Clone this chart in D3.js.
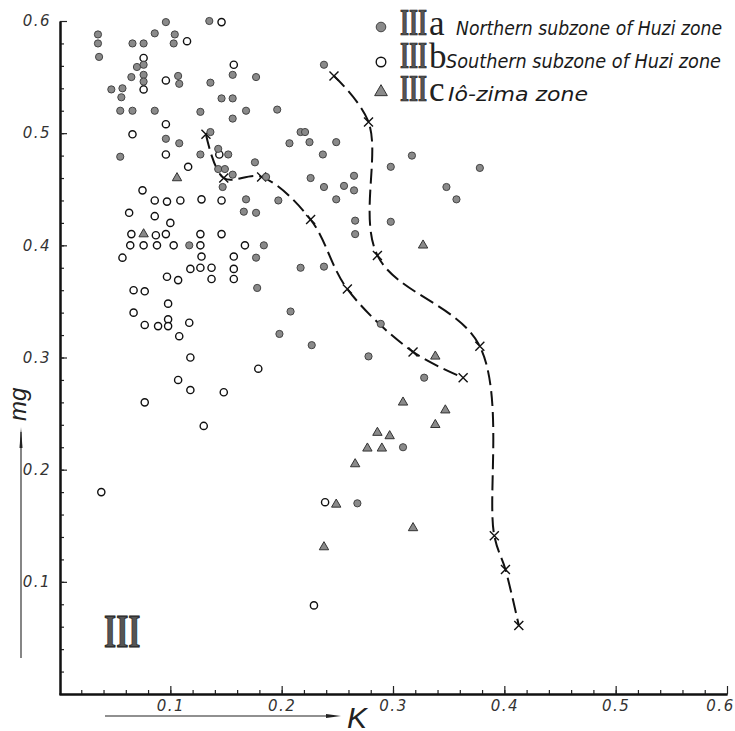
<!DOCTYPE html>
<html>
<head>
<meta charset="utf-8">
<script src="https://cdn.jsdelivr.net/npm/d3@7"></script>
<style>
body{margin:0;background:#fff;}
</style>
</head>
<body>
<div id="container"></div>
<script>
let w = 735;
let h = 731;

// tick values (K and mg share the same 0 - 0.6 range)
let majorTicks = [0.1, 0.2, 0.3, 0.4, 0.5, 0.6];
let minorTicks = d3.range(0.02, 0.6, 0.02);

// IIIa Northern subzone of Huzi zone  [K, mg]
let northernPts = [
  [0.035,0.588],[0.035,0.580],[0.036,0.568],[0.066,0.580],[0.076,0.580],[0.096,0.599],
  [0.086,0.589],[0.104,0.588],[0.103,0.580],[0.135,0.600],[0.070,0.559],[0.076,0.561],
  [0.076,0.552],[0.076,0.546],[0.065,0.550],[0.047,0.539],[0.057,0.540],[0.056,0.532],
  [0.055,0.520],[0.066,0.520],[0.086,0.520],[0.107,0.551],[0.108,0.544],[0.136,0.545],
  [0.156,0.552],[0.146,0.531],[0.156,0.531],[0.127,0.519],[0.156,0.513],[0.168,0.520],
  [0.096,0.495],[0.108,0.491],[0.136,0.501],[0.143,0.486],[0.152,0.481],[0.127,0.481],
  [0.055,0.479],[0.143,0.468],[0.149,0.468],[0.156,0.463],[0.147,0.452],[0.168,0.441],
  [0.166,0.430],[0.117,0.400],[0.196,0.521],[0.176,0.474],[0.186,0.461],[0.226,0.460],
  [0.217,0.501],[0.221,0.501],[0.207,0.491],[0.225,0.492],[0.197,0.440],[0.177,0.429],
  [0.184,0.400],[0.177,0.389],[0.238,0.561],[0.177,0.550],[0.249,0.492],[0.237,0.481],
  [0.317,0.480],[0.298,0.470],[0.378,0.469],[0.238,0.452],[0.256,0.453],[0.265,0.462],
  [0.265,0.449],[0.249,0.441],[0.348,0.452],[0.357,0.441],[0.266,0.422],[0.266,0.410],
  [0.298,0.421],[0.217,0.380],[0.238,0.381],[0.178,0.362],[0.208,0.341],[0.198,0.321],
  [0.227,0.311],[0.289,0.330],[0.278,0.301],[0.328,0.282],[0.309,0.220],[0.268,0.170]
];

// IIIb Southern subzone of Huzi zone
let southernPts = [
  [0.146,0.599],[0.115,0.582],[0.076,0.567],[0.076,0.539],[0.096,0.547],[0.157,0.561],
  [0.096,0.508],[0.066,0.499],[0.144,0.481],[0.096,0.481],[0.116,0.470],[0.075,0.449],
  [0.086,0.440],[0.097,0.439],[0.109,0.440],[0.128,0.441],[0.146,0.440],[0.063,0.429],
  [0.086,0.426],[0.100,0.420],[0.065,0.410],[0.087,0.409],[0.096,0.410],[0.127,0.410],
  [0.146,0.410],[0.064,0.400],[0.076,0.400],[0.088,0.400],[0.103,0.400],[0.127,0.400],
  [0.167,0.400],[0.057,0.389],[0.128,0.390],[0.157,0.390],[0.118,0.379],[0.127,0.380],
  [0.137,0.380],[0.157,0.379],[0.097,0.372],[0.107,0.369],[0.137,0.370],[0.157,0.370],
  [0.067,0.360],[0.077,0.359],[0.098,0.348],[0.067,0.340],[0.077,0.329],[0.089,0.328],
  [0.098,0.334],[0.098,0.328],[0.117,0.331],[0.108,0.319],[0.118,0.300],[0.107,0.280],
  [0.118,0.271],[0.148,0.269],[0.077,0.260],[0.130,0.239],[0.038,0.180],[0.179,0.290],
  [0.239,0.171],[0.229,0.079]
];

// IIIc Io-zima zone
let ioZimaPts = [
  [0.106,0.460],[0.076,0.410],[0.327,0.400],[0.338,0.301],[0.309,0.260],[0.347,0.253],
  [0.338,0.240],[0.286,0.233],[0.297,0.230],[0.277,0.219],[0.290,0.219],[0.266,0.205],
  [0.249,0.169],[0.318,0.148],[0.238,0.131]
];

// the two dashed boundary lines, X marks at each vertex
let innerCurve = [
  [0.132,0.499],[0.148,0.460],[0.182,0.461],[0.226,0.423],[0.259,0.361],[0.318,0.305],[0.363,0.282]
];
let outerCurve = [
  [0.247,0.551],[0.278,0.510],[0.286,0.391],[0.378,0.310],[0.391,0.141],[0.401,0.111],[0.413,0.061]
];

let legendMarks = ["filled", "open", "triangle"];
let legendLetters = ["a", "b", "c"];
let legendLabels = ["Northern subzone of Huzi zone", "Southern subzone of Huzi zone", "Iô-zima zone"];

let viz = d3.select("#container")
  .append("svg")
    .attr("width", w)
    .attr("height", h)
    .style("background-color", "white")
;

let xScale = d3.scaleLinear().domain([0, 0.6]).range([59, 727]);
let yScale = d3.scaleLinear().domain([0, 0.6]).range([694, 21]);

let tickFont = "DejaVu Sans";

// x axis: minor then major ticks, pointing up into the plot
let xMinor = viz.append("g")
  .attr("transform", "translate(0,694)")
  .call(d3.axisBottom(xScale).tickValues(minorTicks).tickSize(-4).tickSizeOuter(0).tickFormat(""));
let xMajor = viz.append("g")
  .attr("transform", "translate(0,694)")
  .call(d3.axisBottom(xScale).tickValues(majorTicks).tickSize(-8).tickSizeOuter(0).tickPadding(6).tickFormat(d3.format(".1f")));

let yMinor = viz.append("g")
  .attr("transform", "translate(60,0)")
  .call(d3.axisLeft(yScale).tickValues(minorTicks).tickSize(-4).tickSizeOuter(0).tickFormat(""));
let yMajor = viz.append("g")
  .attr("transform", "translate(60,0)")
  .call(d3.axisLeft(yScale).tickValues(majorTicks).tickSize(-7).tickSizeOuter(0).tickPadding(9).tickFormat(d3.format(".1f")));

[xMinor, xMajor, yMinor, yMajor].forEach(function(ax){
  ax.attr("font-size", 15)
    .attr("font-family", tickFont)
    .attr("font-style", "italic");
  ax.select(".domain")
    .attr("stroke", "#111")
    .attr("stroke-width", 2);
  ax.selectAll(".tick line")
    .attr("stroke", "#222")
    .attr("stroke-width", 1.2);
  ax.selectAll(".tick text")
    .attr("fill", "#333")
    .attr("letter-spacing", 1.5);
});
// keep the last K label inside the picture
xMajor.selectAll(".tick text").filter(d => d == 0.6).attr("x", -7);

// dashed boundary curves
let line = d3.line()
  .x(d => xScale(d[0]))
  .y(d => yScale(d[1]))
  .curve(d3.curveCatmullRom.alpha(0.5))
;
[innerCurve, outerCurve].forEach(function(curve){
  viz.append("path")
    .attr("d", line(curve))
    .attr("fill", "none")
    .attr("stroke", "#111")
    .attr("stroke-width", 2)
    .attr("stroke-dasharray", "15,6")
  ;
  viz.selectAll(null).data(curve).enter()
    .append("path")
      .attr("d", "M-4.5,-4.5L4.5,4.5M-4.5,4.5L4.5,-4.5")
      .attr("transform", d => "translate(" + xScale(d[0]) + "," + yScale(d[1]) + ")")
      .attr("stroke", "#111")
      .attr("stroke-width", 1.4)
  ;
});

// markers
function drawMark(sel, kind){
  if (kind == "triangle"){
    sel.append("path")
      .attr("d", d3.symbol(d3.symbolTriangle).size(38))
      .attr("fill", "#8a8a8a")
      .attr("stroke", "#333")
      .attr("stroke-width", 1);
  } else {
    sel.append("circle")
      .attr("r", 3.6)
      .attr("fill", kind == "filled" ? "#8a8a8a" : "white")
      .attr("stroke", kind == "filled" ? "#444" : "#111")
      .attr("stroke-width", kind == "filled" ? 1 : 1.4);
  }
}
let series = [[southernPts, "open"], [northernPts, "filled"], [ioZimaPts, "triangle"]];
series.forEach(function(s){
  let g = viz.selectAll(null).data(s[0]).enter()
    .append("g")
      .attr("transform", d => "translate(" + xScale(d[0]) + "," + yScale(d[1]) + ")");
  drawMark(g, s[1]);
});

// legend
let legendY = [27, 62, 92];
let legendBase = [35, 68, 101];
let textX = [456, 446, 448];
let textLen = [266, 275, 140];
legendLabels.forEach(function(label, i){
  let mark = viz.append("g").attr("transform", "translate(381," + legendY[i] + ")");
  drawMark(mark, legendMarks[i]);
  mark.select("circle").attr("r", 4.8);
  mark.select("path").attr("d", d3.symbol(d3.symbolTriangle).size(70));
  viz.append("text")
    .text("III")
    .attr("transform", "translate(400," + legendBase[i] + ") scale(0.75,1.2)")
    .attr("fill", "#555")
    .attr("stroke", "#111")
    .attr("stroke-width", 0.6)
    .style("font-family", "'Liberation Serif', serif")
    .style("font-weight", "bold")
    .style("font-size", "31px");
  viz.append("text")
    .text(legendLetters[i])
    .attr("x", 429)
    .attr("y", legendBase[i])
    .attr("fill", "#222")
    .style("font-family", "'Liberation Serif', serif")
    .style("font-size", "35px");
  viz.append("text")
    .text(label)
    .attr("x", textX[i])
    .attr("y", legendBase[i])
    .attr("textLength", textLen[i])
    .attr("lengthAdjust", "spacingAndGlyphs")
    .attr("fill", "#1a1a1a")
    .style("font-family", "'DejaVu Sans', sans-serif")
    .style("font-style", "italic")
    .style("font-size", "20px");
});

// big III in the corner
viz.append("text")
  .text("III")
  .attr("transform", "translate(104,647) scale(0.68,1)")
  .attr("fill", "#555")
  .attr("stroke", "#111")
  .attr("stroke-width", 0.8)
  .style("font-family", "'Liberation Serif', serif")
  .style("font-weight", "bold")
  .style("font-size", "46px")
;

// axis titles with arrow lines
viz.append("line")
  .attr("x1", 105).attr("y1", 716).attr("x2", 334).attr("y2", 716)
  .attr("stroke", "#222").attr("stroke-width", 1.1)
;
viz.append("path")
  .attr("d", "M326,714 L341,716 L326,718 Z")
  .attr("fill", "#222")
;
viz.append("text")
  .text("K")
  .attr("x", 347)
  .attr("y", 728)
  .attr("fill", "#222")
  .style("font-family", "'Liberation Sans', sans-serif")
  .style("font-style", "italic")
  .style("font-size", "30px")
;
viz.append("line")
  .attr("x1", 21).attr("y1", 658).attr("x2", 21).attr("y2", 432)
  .attr("stroke", "#222").attr("stroke-width", 1.1)
;
viz.append("path")
  .attr("d", "M19.5,448 L21,427 L22.5,448 Z")
  .attr("fill", "#222")
;
viz.append("text")
  .text("mg")
  .attr("transform", "translate(26,421) rotate(-90)")
  .attr("fill", "#222")
  .style("font-family", "'Liberation Sans', sans-serif")
  .style("font-style", "italic")
  .style("font-size", "24px")
;
</script>
</body>
</html>
